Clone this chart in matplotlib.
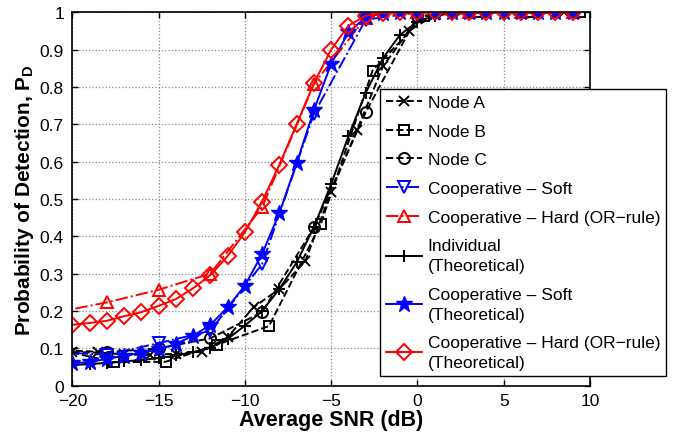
import matplotlib
matplotlib.use("Agg")
import matplotlib.pyplot as plt
import numpy as np

plt.rcParams['font.family'] = ['Liberation Sans', 'DejaVu Sans']
plt.rcParams['mathtext.fontset'] = 'custom'
plt.rcParams['mathtext.rm'] = 'Liberation Sans:bold'
plt.rcParams['mathtext.it'] = 'Liberation Sans:bold'
plt.rcParams['mathtext.bf'] = 'Liberation Sans:bold'

# ---- data ----
theo_snr = list(range(-20, 10))
indiv_theo = [0.055, 0.058, 0.061, 0.065, 0.069, 0.074, 0.081, 0.090, 0.102, 0.125,
              0.161, 0.200, 0.259, 0.330, 0.425, 0.540, 0.668, 0.784, 0.877, 0.940,
              0.975, 0.991, 0.997, 1.0, 1.0, 1.0, 1.0, 1.0, 1.0, 1.0]
soft_theo = [0.060, 0.063, 0.072, 0.080, 0.088, 0.097, 0.112, 0.134, 0.163, 0.210,
             0.268, 0.353, 0.463, 0.596, 0.738, 0.862, 0.946, 0.987, 0.997, 1.0,
             1.0, 1.0, 1.0, 1.0, 1.0, 1.0, 1.0, 1.0, 1.0, 1.0]
hard_theo = [0.163, 0.168, 0.174, 0.186, 0.197, 0.214, 0.232, 0.261, 0.296, 0.347,
             0.411, 0.493, 0.592, 0.700, 0.810, 0.900, 0.964, 0.991, 0.998, 1.0,
             1.0, 1.0, 1.0, 1.0, 1.0, 1.0, 1.0, 1.0, 1.0, 1.0]

nodeA_snr = [-20, -18.5, -17, -15.5, -14, -12.5, -11, -9.5, -8, -6.5, -5, -3.5, -2,
             -0.5, 1, 2.5, 4, 5.5, 7, 8.5]
nodeA_pd = [0.090, 0.089, 0.084, 0.082, 0.086, 0.091, 0.130, 0.210, 0.259, 0.333,
            0.520, 0.685, 0.855, 0.950, 0.993, 1.0, 1.0, 1.0, 1.0, 1.0]

nodeB_snr = [-20.6, -17.6, -14.6, -11.6, -8.6, -5.6, -2.6, 0.4, 3.4, 6.4, 9.4]
nodeB_pd = [0.095, 0.063, 0.064, 0.110, 0.160, 0.433, 0.844, 0.990, 1.0, 1.0, 1.0]

exp_snr = [-21, -18, -15, -12, -9, -6, -3, 0, 3, 6, 9]
nodeC_pd = [0.096, 0.090, 0.100, 0.127, 0.197, 0.424, 0.732, 0.990, 1.0, 1.0, 1.0]
soft_exp = [0.090, 0.083, 0.114, 0.147, 0.326, 0.728, 0.980, 1.0, 1.0, 1.0, 1.0]
hard_exp = [0.196, 0.223, 0.257, 0.300, 0.478, 0.808, 0.985, 1.0, 1.0, 1.0, 1.0]

labels = ['Node A', 'Node B', 'Node C', 'Cooperative \u2013 Soft',
          'Cooperative \u2013 Hard (OR\u2212rule)', 'Individual\n(Theoretical)',
          'Cooperative \u2013 Soft\n(Theoretical)',
          'Cooperative \u2013 Hard (OR\u2212rule)\n(Theoretical)']

x_ticks = [-20, -15, -10, -5, 0, 5, 10]
x_ticklabels = ['\u221220', '\u221215', '\u221210', '\u22125', '0', '5', '10']
y_ticks = [0, 0.1, 0.2, 0.3, 0.4, 0.5, 0.6, 0.7, 0.8, 0.9, 1]
y_ticklabels = ['0', '0.1', '0.2', '0.3', '0.4', '0.5', '0.6', '0.7', '0.8', '0.9', '1']

# ---- plot ----
fig = plt.figure(figsize=(6.83, 4.39), dpi=100)
ax = fig.add_axes([0.1059, 0.1191, 0.7579, 0.8506])

lw = 1.4
ax.plot(nodeA_snr, nodeA_pd, 'k--', marker='x', ms=7, mew=1.4, lw=lw, label=labels[0])
ax.plot(nodeB_snr, nodeB_pd, 'k--', marker='s', ms=7, mfc='none', mew=1.4, lw=lw, label=labels[1])
ax.plot(exp_snr, nodeC_pd, 'k--', marker='o', ms=8, mfc='none', mew=1.4, lw=lw, label=labels[2])
ax.plot(exp_snr, soft_exp, color='b', ls='-.', marker='v', ms=9, mfc='none', mew=1.4, lw=lw, label=labels[3])
ax.plot(exp_snr, hard_exp, color='r', ls='-.', marker='^', ms=9, mfc='none', mew=1.4, lw=lw, label=labels[4])
ax.plot(theo_snr, indiv_theo, 'k-', marker='+', ms=9, mew=1.4, lw=lw, label=labels[5])
ax.plot(theo_snr, soft_theo, 'b-', marker='*', ms=12, mew=1.0, lw=lw, label=labels[6])
ax.plot(theo_snr, hard_theo, 'r-', marker='D', ms=8, mfc='none', mew=1.4, lw=lw, label=labels[7])

ax.set_xlim(-20, 10)
ax.set_ylim(0, 1)
ax.set_xticks(x_ticks)
ax.set_xticklabels(x_ticklabels)
ax.set_yticks(y_ticks)
ax.set_yticklabels(y_ticklabels)
ax.tick_params(direction='in', length=4, width=1, top=True, right=True, labelsize=12.5)
ax.tick_params(axis='y', pad=6)
ax.tick_params(axis='x', pad=5)
ax.grid(True, ls=':', color='#888888', lw=0.9)
for s in ax.spines.values():
    s.set_linewidth(1.2)

ax.set_xlabel('Average SNR (dB)', fontsize=15.5, fontweight='bold', labelpad=1)
ax.set_ylabel(r'Probability of Detection, P$_\mathrm{D}$', fontsize=15, fontweight='bold', labelpad=3)

leg = ax.legend(loc='upper left', bbox_to_anchor=(0.594, 0.795), fontsize=12.5,
                frameon=True, fancybox=False, edgecolor='black', framealpha=1,
                handlelength=2.1, labelspacing=0.78, borderpad=0.35, handletextpad=0.3,
                borderaxespad=0)
for t in leg.get_texts():
    t.set_linespacing(1.4)
leg.get_frame().set_linewidth(1.0)

fig.savefig('out.png', dpi=100)
